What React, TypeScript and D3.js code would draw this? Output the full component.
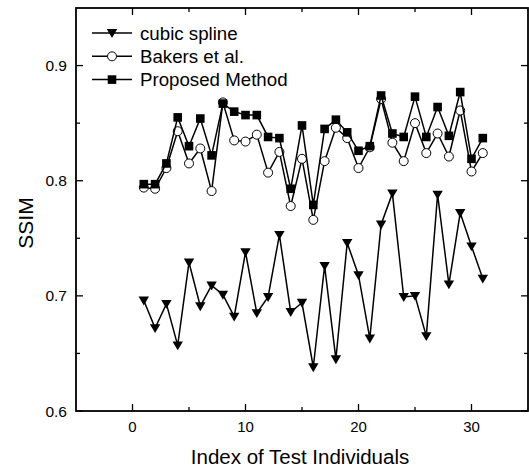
import React from "react";
import * as d3 from "d3";

const xIndex = d3.range(1, 32);
const cubicSpline = [0.696, 0.672, 0.693, 0.657, 0.729, 0.691, 0.709, 0.701, 0.682, 0.738, 0.685, 0.699, 0.753, 0.686, 0.694, 0.638, 0.726, 0.645, 0.746, 0.718, 0.663, 0.762, 0.789, 0.699, 0.700, 0.665, 0.788, 0.710, 0.772, 0.743, 0.715];
const bakers = [0.794, 0.793, 0.811, 0.843, 0.815, 0.828, 0.791, 0.868, 0.835, 0.834, 0.840, 0.807, 0.825, 0.778, 0.819, 0.766, 0.817, 0.846, 0.837, 0.811, 0.829, 0.871, 0.833, 0.817, 0.850, 0.824, 0.841, 0.821, 0.861, 0.808, 0.824];
const proposed = [0.797, 0.797, 0.815, 0.855, 0.830, 0.854, 0.822, 0.867, 0.860, 0.857, 0.857, 0.838, 0.837, 0.793, 0.848, 0.779, 0.845, 0.853, 0.842, 0.826, 0.830, 0.874, 0.841, 0.838, 0.873, 0.838, 0.864, 0.839, 0.877, 0.819, 0.837];
const xTicks = [0, 10, 20, 30];
const xMinor = [5, 15, 25];
const yTicks = [0.6, 0.7, 0.8, 0.9];
const yMinor = [0.65, 0.75, 0.85];
const legendLabels = ["cubic spline", "Bakers et al.", "Proposed Method"];

const W = 529, H = 470;
const L = 76, R = 528, T = 8, B = 411;
const FONT = "Liberation Sans, Arial, sans-serif";

function Marker({ kind, x, y }: { kind: number; x: number; y: number }) {
  if (kind === 0) {
    const s = 5.2;
    return <path d={`M${x - s},${y - s * 0.75}L${x + s},${y - s * 0.75}L${x},${y + s * 0.95}Z`} fill="#000" />;
  }
  if (kind === 1) return <circle cx={x} cy={y} r={4.5} fill="#fff" stroke="#000" strokeWidth={1} />;
  return <rect x={x - 4.3} y={y - 4.3} width={8.6} height={8.6} fill="#000" />;
}

export default function App() {
  const x = d3.scaleLinear().domain([-5, 35]).range([L, R]);
  const y = d3.scaleLinear().domain([0.6, 0.95]).range([B, T]);
  const series = [cubicSpline, bakers, proposed];
  const line = d3.line<number>().x((_, i) => x(xIndex[i])).y((d) => y(d));

  return (
    <svg width={W} height={H} style={{ position: "absolute", left: 0, top: 0, background: "#fff" }}>
      <rect x={0} y={0} width={W} height={H} fill="#fff" />
      {series.map((s, k) => (
        <g key={k}>
          <path d={line(s) || ""} fill="none" stroke="#000" strokeWidth={1.5} />
          {s.map((v, i) => (
            <Marker key={i} kind={k} x={x(xIndex[i])} y={y(v)} />
          ))}
        </g>
      ))}
      <rect x={L} y={T} width={R - L} height={B - T} fill="none" stroke="#000" strokeWidth={1.8} />
      {xTicks.map((t) => (
        <g key={"xt" + t}>
          <line x1={x(t)} x2={x(t)} y1={B} y2={B - 7} stroke="#000" strokeWidth={1.3} />
          <line x1={x(t)} x2={x(t)} y1={T} y2={T + 7} stroke="#000" strokeWidth={1.3} />
          <text x={x(t)} y={432} textAnchor="middle" fontFamily={FONT} fontSize={15}>{t}</text>
        </g>
      ))}
      {xMinor.map((t) => (
        <g key={"xm" + t}>
          <line x1={x(t)} x2={x(t)} y1={B} y2={B - 4} stroke="#000" strokeWidth={1.3} />
          <line x1={x(t)} x2={x(t)} y1={T} y2={T + 4} stroke="#000" strokeWidth={1.3} />
        </g>
      ))}
      {yTicks.map((t) => (
        <g key={"yt" + t}>
          <line x1={L} x2={L + 7} y1={y(t)} y2={y(t)} stroke="#000" strokeWidth={1.3} />
          <line x1={R} x2={R - 7} y1={y(t)} y2={y(t)} stroke="#000" strokeWidth={1.3} />
          <text x={67} y={y(t) + 5.5} textAnchor="end" fontFamily={FONT} fontSize={15.5}>{t.toFixed(1)}</text>
        </g>
      ))}
      {yMinor.map((t) => (
        <g key={"ym" + t}>
          <line x1={L} x2={L + 4} y1={y(t)} y2={y(t)} stroke="#000" strokeWidth={1.3} />
          <line x1={R} x2={R - 4} y1={y(t)} y2={y(t)} stroke="#000" strokeWidth={1.3} />
        </g>
      ))}
      <text x={300} y={464} textAnchor="middle" fontFamily={FONT} fontSize={20.5}>Index of Test Individuals</text>
      <text transform={`translate(33,223) rotate(-90)`} textAnchor="middle" fontFamily={FONT} fontSize={21}>SSIM</text>
      {legendLabels.map((lab, k) => {
        const ly = 33 + k * 23.3;
        return (
          <g key={lab}>
            <line x1={92} x2={132} y1={ly} y2={ly} stroke="#000" strokeWidth={1.5} />
            <Marker kind={k} x={112} y={ly} />
            <text x={140} y={ly + 6.8} fontFamily={FONT} fontSize={18.7}>{lab}</text>
          </g>
        );
      })}
    </svg>
  );
}
